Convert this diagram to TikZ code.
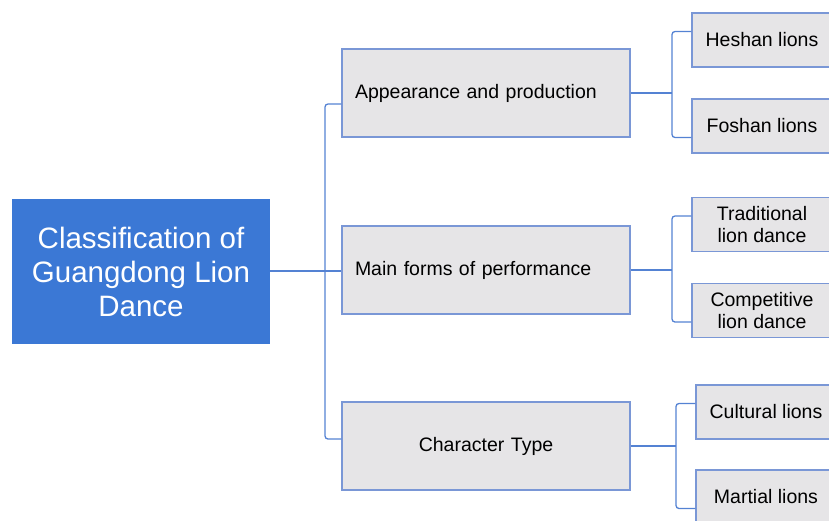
\documentclass[tikz,border=0pt]{standalone}
\usepackage{fontspec}
\setmainfont{Liberation Sans}
\usepackage{xcolor}
\definecolor{rootblue}{HTML}{3B78D5}
\definecolor{linkblue}{HTML}{5482D3}
\definecolor{boxgray}{HTML}{E6E5E7}
\definecolor{edgeblue}{HTML}{7A97D6}

\begin{document}
\begin{tikzpicture}[x=1pt,y=-1pt,
     root/.style={rectangle,fill=rootblue,text=white,minimum width=258pt,
       minimum height=145pt,align=center,font=\fontsize{29.5}{34}\selectfont},
     cat/.style={draw=edgeblue,line width=1.1pt,fill=boxgray,minimum width=288pt,
       minimum height=88pt,inner xsep=13pt,text width=262pt,align=left,
       font=\fontsize{19.5}{22}\selectfont},
     leaf/.style={draw=edgeblue,line width=1.1pt,fill=boxgray,minimum width=140pt,
       minimum height=54pt,inner sep=2pt,align=center,
       font=\fontsize{19.5}{22}\selectfont},
     link/.style={draw=linkblue,line width=1.3pt}
     ]
   \useasboundingbox (0,0) rectangle (829,520);
   \clip (0,0) rectangle (829,520);

   % root and the three categories
   \node[root] (root) at (141,271.5) {Classification of\\Guangdong Lion\\Dance};
   \node[cat] (m1) at (486,93)  {Appearance and production};
   \node[cat] (m2) at (486,270) {Main forms of performance};
   \node[cat,align=center] (m3) at (486,446) {Character Type};

   % leaves
   \node[leaf] (heshan) at (762,40)    {Heshan lions};
   \node[leaf] (foshan) at (762,126)   {Foshan lions};
   \node[leaf] (trad)   at (762,224.5) {Traditional\\lion dance};
   \node[leaf] (comp)   at (762,310.5) {Competitive\\lion dance};
   \node[leaf] (cult)   at (766,412)   {Cultural lions};
   \node[leaf] (mart)   at (766,497)   {Martial lions};

   % trunk from the root
   \coordinate (trunk) at (325,271);
   \draw[link] (root.east |- trunk) -- (trunk);
   \draw[link,rounded corners=3pt]
      ([yshift=-11pt]m1.west) -| (trunk) |- ([yshift=7pt]m3.west);
   \draw[link] (trunk) -- (m2.west |- trunk);

   % brackets on the right, one per category
   \foreach \m/\up/\dn/\bx in {m1/heshan/foshan/672,
                               m2/trad/comp/672,
                               m3/cult/mart/676}
   {
     \coordinate (bx) at (\bx,0);
     \draw[link] (\m.east) -- (bx |- \m.east);
     \draw[link,rounded corners=3pt]
        ([yshift=8.5pt]\up.west) -| (bx |- \m.east) |- ([yshift=-11.5pt]\dn.west);
   }
 \end{tikzpicture}
\end{document}
